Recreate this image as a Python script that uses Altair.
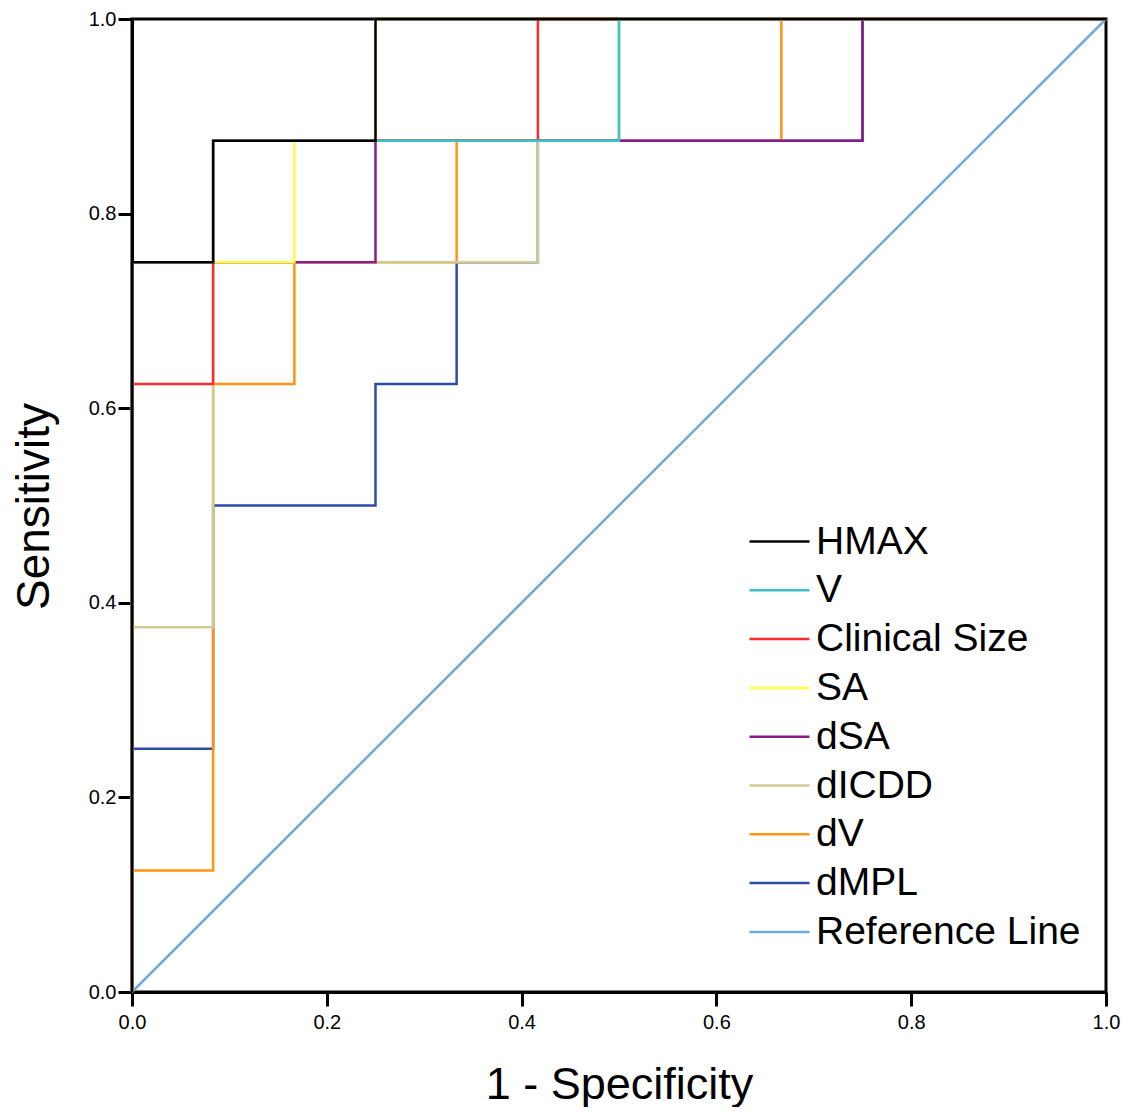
import altair as alt
import pandas as pd

series_names = ["HMAX", "V", "Clinical Size", "SA", "dSA", "dICDD", "dV", "dMPL", "Reference Line"]
series_colors = ["#000000", "#3CC2C2", "#FF2A2A", "#FFFF40", "#8A1C8A", "#CFCB92", "#FF9410", "#2E4BA8", "#72A8DA"]

hmax_x = [0, 0, 0.0833, 0.0833, 0.25, 0.25, 1]
hmax_y = [0, 0.75, 0.75, 0.875, 0.875, 1, 1]
v_x = [0, 0, 0.0833, 0.0833, 0.5, 0.5, 1]
v_y = [0, 0.75, 0.75, 0.875, 0.875, 1, 1]
cs_x = [0, 0, 0.0833, 0.0833, 0.4167, 0.4167, 1]
cs_y = [0, 0.625, 0.625, 0.875, 0.875, 1, 1]
sa_x = [0, 0, 0.1667, 0.1667, 0.25, 0.25, 1]
sa_y = [0, 0.75, 0.75, 0.875, 0.875, 1, 1]
dsa_x = [0, 0, 0.25, 0.25, 0.75, 0.75, 1]
dsa_y = [0, 0.75, 0.75, 0.875, 0.875, 1, 1]
dicdd_x = [0, 0, 0.0833, 0.0833, 0.4167, 0.4167, 0.5, 0.5, 1]
dicdd_y = [0, 0.375, 0.375, 0.75, 0.75, 0.875, 0.875, 1, 1]
dv_x = [0, 0, 0.0833, 0.0833, 0.1667, 0.1667, 0.3333, 0.3333, 0.6667, 0.6667, 1]
dv_y = [0, 0.125, 0.125, 0.625, 0.625, 0.75, 0.75, 0.875, 0.875, 1, 1]
dmpl_x = [0, 0, 0.0833, 0.0833, 0.25, 0.25, 0.3333, 0.3333, 0.4167, 0.4167, 0.75, 0.75, 1]
dmpl_y = [0, 0.25, 0.25, 0.5, 0.5, 0.625, 0.625, 0.75, 0.75, 0.875, 0.875, 1, 1]
ref_x = [0, 1]
ref_y = [0, 1]

tick_values = [0.0, 0.2, 0.4, 0.6, 0.8, 1.0]

curves = {
    "HMAX": (hmax_x, hmax_y),
    "V": (v_x, v_y),
    "Clinical Size": (cs_x, cs_y),
    "SA": (sa_x, sa_y),
    "dSA": (dsa_x, dsa_y),
    "dICDD": (dicdd_x, dicdd_y),
    "dV": (dv_x, dv_y),
    "dMPL": (dmpl_x, dmpl_y),
    "Reference Line": (ref_x, ref_y),
}

FONT = "Liberation Sans"

color_scale = alt.Scale(domain=series_names, range=series_colors)

layers = []
# draw from last legend entry (bottom) to first (top)
for name in reversed(series_names):
    xs, ys = curves[name]
    df = pd.DataFrame({"x": xs, "y": ys, "order": list(range(len(xs))), "series": name})
    enc = dict(
        x=alt.X("x:Q", scale=alt.Scale(domain=[0, 1], nice=False),
                axis=alt.Axis(title="1 - Specificity", values=tick_values, format=".1f",
                              labelFlush=False, titleFontSize=45,
                              titleY=92, titleBaseline="middle")),
        y=alt.Y("y:Q", scale=alt.Scale(domain=[0, 1], nice=False),
                axis=alt.Axis(title="Sensitivity", values=tick_values, format=".1f",
                              labelFlush=False, titleFontSize=46,
                              titleX=-98, titleY=487, titleAngle=-90, titleBaseline="middle",
                              titleAlign="center")),
        order="order:Q",
        color=alt.Color("series:N", scale=color_scale,
                        legend=alt.Legend(title=None, orient="none", legendX=628, legendY=503,
                                          symbolType="M-2,0H2", symbolSize=900, symbolStrokeWidth=2.5,
                                          labelFontSize=39, labelFont=FONT, labelColor="#000000",
                                          labelOffset=17, rowPadding=8.8, padding=0,
                                          labelLimit=400)),
    )
    layers.append(alt.Chart(df).mark_line(strokeWidth=2.5, interpolate="linear", clip=False).encode(**enc))

chart = alt.layer(*layers).properties(
    width=974,
    height=973,
    background="white",
    autosize=alt.AutoSizeParams(type="none"),
    padding={"left": 124, "top": 11, "right": 23, "bottom": 115},
).configure_view(
    stroke="#000000", strokeWidth=3
).configure_axis(
    domainColor="#000000", domainWidth=3, tickColor="#000000", tickWidth=3, tickSize=14,
    labelFont=FONT, labelFontSize=20, labelColor="#000000", labelPadding=2,
    titleFont=FONT, titleFontSize=44, titleFontWeight="normal", titleColor="#000000",
    grid=False, zindex=1
).configure_axisX(
    labelPadding=6
)

chart.save("out.html", embed_options={"renderer": "svg", "actions": False})
